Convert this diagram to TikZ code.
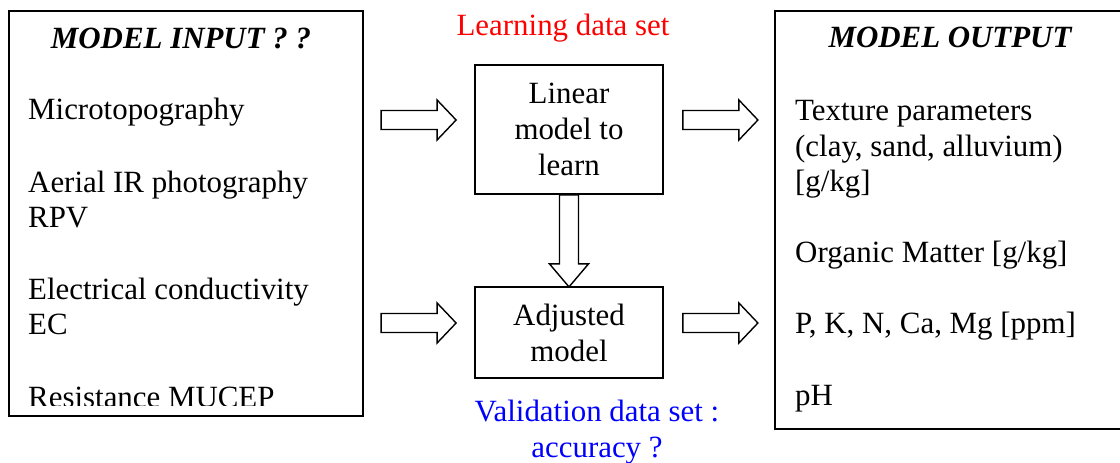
\documentclass[tikz,border=0pt]{standalone}
\usepackage{fontspec}
\setmainfont{Liberation Serif}
\usetikzlibrary{calc}
\begin{document}
\begin{tikzpicture}[x=1pt,y=-1pt,
  box/.style={draw, line width=1.8pt, inner sep=0pt, minimum width=#1},
  big/.style={font=\fontsize{30.9}{36}\selectfont},
  txt/.style={big, anchor=base west, inner sep=0pt},
  ttl/.style={font=\fontsize{30.9}{36}\selectfont\bfseries\itshape, anchor=base, inner sep=0pt},
  arrowline/.style={draw, line width=1.4pt, line join=miter},
  harrow/.pic={\path[arrowline] (0,-9.5) -- (56,-9.5) -- (56,-20) -- (75,0) -- (56,20) -- (56,9.5) -- (0,9.5) -- cycle;},
  varrow/.pic={\path[arrowline] (-9.5,0) -- (-9.5,69) -- (-19.5,69) -- (0,92) -- (19.5,69) -- (9.5,69) -- (9.5,0) -- cycle;}
]
\clip (0,0) rectangle (1120,463);
\useasboundingbox (0,0) rectangle (1120,463);
\fill[white] (0,0) rectangle (1120,463);

% left box
\node[box=354pt, minimum height=405pt, anchor=north west] (inbox) at (8,10) {};
\node[ttl] (intitle) at (181,48) {MODEL INPUT ? ?};
\node[txt] (in1) at (28,119) {Microtopography};
\node[txt] (in2) at (28,192) {Aerial IR photography};
\node[txt] (in3) at (28,227) {RPV};
\node[txt] (in4) at (28,299) {Electrical conductivity};
\node[txt] (in5) at (28,334) {EC};
\begin{scope}
  \clip (9,380) rectangle (361,405);
  \node[txt] (in6) at (28,407) {Resistance MUCEP};
\end{scope}

% middle boxes
\node[box=188pt, minimum height=129pt, big, align=center] (learn) at (569,129.5) {Linear\\model to\\learn};
\node[box=188pt, minimum height=91pt, big, align=center] (adj) at (569,332.5) {Adjusted\\model};
\node[big, text=red, anchor=base, inner sep=0pt] (learnset) at (563,35) {Learning data set};
\node[big, text=blue, anchor=base, inner sep=0pt] (valset) at (597,421) {Validation data set :};
\node[big, text=blue, anchor=base, inner sep=0pt] (valacc) at (597,457) {accuracy ?};

% right box
\node[box=350pt, minimum height=418pt, anchor=north west] (outbox) at (774,10) {};
\node[ttl] (outtitle) at (950,47) {MODEL OUTPUT};
\node[txt] (out1) at (795,120) {Texture parameters};
\node[txt] (out2) at (795,156) {(clay, sand, alluvium)};
\node[txt] (out3) at (795,191) {[g/kg]};
\node[txt] (out4) at (795,262) {Organic Matter [g/kg]};
\node[txt] (out5) at (795,333) {P, K, N, Ca, Mg [ppm]};
\node[txt] (out6) at (795,405) {pH};

% block arrows
\pic at ($(learn.west)+(-93,-9.5)$) {harrow};
\pic at ($(learn.east)+(19,-9.5)$) {harrow};
\pic at ($(adj.west)+(-93,-9.5)$) {harrow};
\pic at ($(adj.east)+(19,-9.5)$) {harrow};
\pic at (learn.south) {varrow};
\end{tikzpicture}
\end{document}
